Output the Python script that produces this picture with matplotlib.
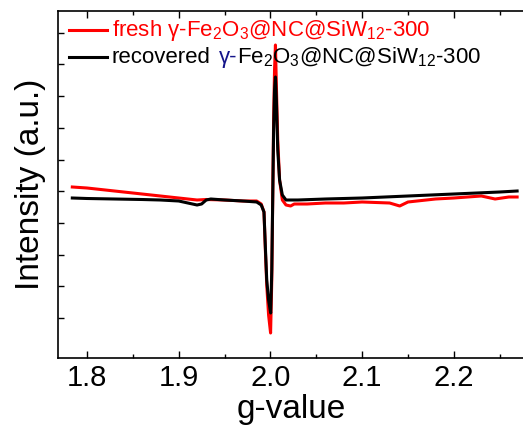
import numpy as np
import matplotlib
matplotlib.use("Agg")
import matplotlib.pyplot as plt
from matplotlib.lines import Line2D

plt.rcParams['font.family'] = ['Liberation Sans', 'DejaVu Sans']
plt.rcParams['mathtext.fontset'] = 'custom'
plt.rcParams['mathtext.rm'] = 'Liberation Sans'
plt.rcParams['mathtext.it'] = 'Liberation Sans:italic'

# ========== DATA (intensity in arbitrary units) ==========
g_recovered = [1.784, 1.80, 1.83, 1.86, 1.88, 1.90, 1.91, 1.92, 1.925, 1.93, 1.935,
               1.95, 1.97, 1.985, 1.99, 1.993, 1.9945, 1.996, 1.998, 2.0003, 2.0015,
               2.0025, 2.0035, 2.0045, 2.0055, 2.0065, 2.008, 2.010, 2.013, 2.017,
               2.03, 2.06, 2.10, 2.15, 2.20, 2.25, 2.269]
i_recovered = [160, 159.5, 159, 158.5, 158, 157, 155, 153, 154, 158, 159,
               158, 157, 156, 153, 146, 111, 78, 58, 45, 88,
               158, 228, 268, 281, 258, 208, 178, 163, 158,
               158, 159, 160, 162, 164, 166, 167]

g_fresh = [1.784, 1.80, 1.83, 1.86, 1.88, 1.90, 1.92, 1.93, 1.95, 1.97, 1.985,
           1.99, 1.993, 1.9945, 1.996, 1.998, 2.0002, 2.0015, 2.0025, 2.0035, 2.0045,
           2.0055, 2.0065, 2.008, 2.010, 2.013, 2.017, 2.022, 2.026, 2.04, 2.06,
           2.08, 2.10, 2.13, 2.141, 2.15, 2.18, 2.20, 2.23, 2.245, 2.26, 2.269]
i_fresh = [171, 170, 167, 164, 162, 160, 158, 158.5, 158, 157, 157,
           154, 146, 108, 73, 43, 25, 78, 158, 238, 288,
           313, 273, 218, 178, 158, 153, 152, 154, 154, 155,
           155, 156, 155, 152, 156, 159, 160, 162, 159, 161, 161]

label_fresh = "fresh \u03b3-Fe$_2$O$_3$@NC@SiW$_{12}$-300"
label_rec_a = "recovered"
label_rec_b = "\u03b3-"
label_rec_c = "Fe$_2$O$_3$@NC@SiW$_{12}$-300"

x_ticks = [1.8, 1.9, 2.0, 2.1, 2.2]

# ========== PLOT ==========
fig = plt.figure(figsize=(5.23, 4.32), dpi=100)
ax = fig.add_axes([58 / 523, 74 / 432, 467 / 523, 347 / 432])

ax.plot(g_fresh, i_fresh, color='#ff0000', lw=2.2, solid_joinstyle='round')
ax.plot(g_recovered, i_recovered, color='black', lw=2.2, solid_joinstyle='round')

ax.set_xlim(1.7684, 2.2776)
ax.set_ylim(0, 347)
ax.set_xticks(x_ticks)
ax.set_xticklabels([f"{t:.1f}" for t in x_ticks])
ax.set_xticks(np.arange(1.85, 2.3, 0.1), minor=True)
ax.set_yticks(np.arange(40, 347, 31.7))
ax.set_yticklabels([])

ax.tick_params(axis='x', which='major', direction='in', length=5, width=1,
               top=True, labelsize=21, pad=4)
ax.tick_params(axis='x', which='minor', direction='in', length=3, width=1, top=True)
ax.tick_params(axis='y', which='major', direction='in', length=4, width=1)
for sp in ax.spines.values():
    sp.set_linewidth(1.2)

ax.set_xlabel("g-value", fontsize=24, labelpad=2)
ax.set_ylabel("Intensity (a.u.)", fontsize=24, labelpad=5)

# Legend, built by hand because one label has a blue part
LEG_FS = 16
ax.add_line(Line2D([0.0236, 0.105], [0.945, 0.945], transform=ax.transAxes,
                   color='#ff0000', lw=2.2))
ax.add_line(Line2D([0.0236, 0.105], [0.867, 0.867], transform=ax.transAxes,
                   color='black', lw=2.2))
ax.text(0.1156, 0.945, label_fresh, transform=ax.transAxes, color='#ff0000',
        fontsize=LEG_FS, va='center')
t_a = ax.text(0.1156, 0.867, label_rec_a, transform=ax.transAxes, color='black',
              fontsize=LEG_FS, va='center')
fig.canvas.draw()
r = fig.canvas.get_renderer()
ax_w = ax.get_window_extent(r).width
bb = t_a.get_window_extent(r)
x_b = 0.1156 + (bb.width + 8) / ax_w
t_b = ax.text(x_b, 0.867, label_rec_b, transform=ax.transAxes, color='#15158a',
              fontsize=LEG_FS, va='center')
bb_b = t_b.get_window_extent(r)
x_c = x_b + bb_b.width / ax_w
ax.text(x_c, 0.867, label_rec_c, transform=ax.transAxes, color='black',
        fontsize=LEG_FS, va='center')

fig.savefig("out.png", dpi=100)
